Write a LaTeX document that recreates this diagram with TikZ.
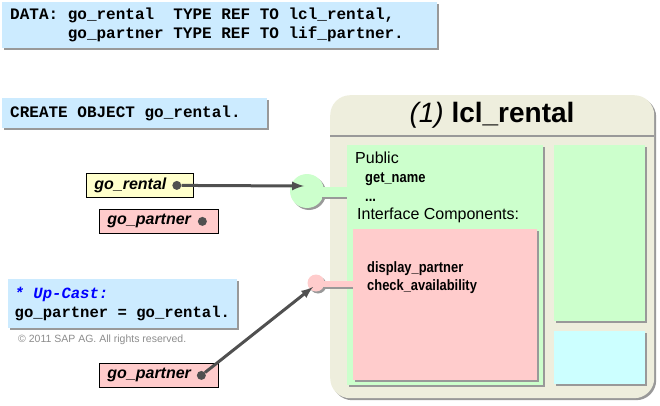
\documentclass[tikz,border=0pt]{standalone}
\usepackage{fontspec}
\setmainfont{Liberation Sans}
\newfontfamily\codefont{Liberation Mono}
\newfontfamily\narrowfont[FakeStretch=0.86]{Liberation Sans}
\usepackage{tikz}
\usetikzlibrary{arrows,positioning,shadows}

\newcommand\codesp{\kern.6em\relax}

\definecolor{codeblue}{HTML}{CCEBFF}
\definecolor{objbeige}{HTML}{EEEEDD}
\definecolor{pubgreen}{HTML}{CCFFCC}
\definecolor{ifpink}{HTML}{FFCCCC}
\definecolor{privcyan}{HTML}{CCFFFF}
\definecolor{refyellow}{HTML}{FFFFCC}
\definecolor{shadowgray}{HTML}{999999}
\definecolor{ptrgray}{HTML}{505050}
\definecolor{castblue}{HTML}{0000FF}
\definecolor{copygray}{HTML}{8C8C8C}

\tikzset{
  shd/.style={general shadow={fill=shadowgray,shadow xshift=2pt,shadow yshift=-2pt}},
  codebox/.style={shd,fill=codeblue,anchor=north west,inner xsep=8pt,inner ysep=0pt,
    font=\codefont\bfseries\fontsize{16}{19}\selectfont},
  refbox/.style={draw=black,line width=0.8pt,anchor=north west,minimum height=24pt,inner xsep=8pt,
    font=\bfseries\itshape\fontsize{16}{19}\selectfont},
  ptrdot/.style={circle,fill=ptrgray,minimum size=9pt,inner sep=0pt},
  ptrline/.style={-latex,line width=3pt,draw=ptrgray},
  panel/.style={shd,anchor=north west,inner sep=0pt},
  plain/.style={anchor=base west,inner sep=0pt,font=\fontsize{16}{19}\selectfont},
  member/.style={anchor=base west,inner sep=0pt,font=\narrowfont\bfseries\fontsize{15}{18}\selectfont}
}

\begin{document}
\begin{tikzpicture}[x=1pt,y=-1pt]
\useasboundingbox (0,0) rectangle (660,406);

\node[codebox,text width=419pt,minimum height=46pt] (data) at (2,2)
  {DATA:\codesp go\_rental\codesp\codesp TYPE\codesp REF\codesp TO\codesp lcl\_rental,\\
  \phantom{DATA:}\codesp go\_partner\codesp TYPE\codesp REF\codesp TO\codesp lif\_partner.};
\node[codebox,text width=249pt,minimum height=30pt] (create) at (2,98) {CREATE\codesp OBJECT\codesp go\_rental.};
\node[codebox,text width=216pt,inner xsep=6.5pt,minimum height=49pt,
  font=\codefont\bfseries\fontsize{15.6}{19}\selectfont] (upcast) at (8,279)
  {\textcolor{castblue}{\itshape *\codesp Up-Cast:}\\ go\_partner\codesp=\codesp go\_rental.};

\node[refbox,fill=refyellow] (rental) at (86,173) {go\_rental\kern19pt};
\node[ptrdot] (rdot) at ([xshift=-17pt]rental.east) {};
\node[refbox,fill=ifpink] (partner) at (99,209) {go\_partner\kern19pt};
\node[ptrdot] (pdot) at ([xshift=-16pt]partner.east) {};
\node[refbox,fill=ifpink] (partnercast) at (99,363) {go\_partner\kern19pt};
\node[ptrdot] (cdot) at ([xshift=-17pt]partnercast.east) {};

\node[anchor=base west,inner sep=0pt,text=copygray,font=\fontsize{10.5}{12}\selectfont] (copyright) at (18,342)
  {\textcopyright{} 2011 SAP AG. All rights reserved.};

\node[panel,fill=objbeige,rounded corners=20pt,minimum width=324pt,minimum height=303pt] (obj) at (330,95) {};
\draw[shadowgray,line width=2pt] (obj.north west) ++(0,41) -- ++(324,0);
\node[anchor=base,font=\fontsize{28}{32}\selectfont] (objtitle) at (492,123) {\textit{(1)} \textbf{lcl\_rental}};

\node[circle,shd,fill=pubgreen,minimum size=34pt,inner sep=0pt] (ifpub) at (307,191) {};
\node[panel,fill=pubgreen,minimum width=27pt,minimum height=10pt] (pubstem) at (320,187) {};
\node[panel,fill=pubgreen,minimum width=196pt,minimum height=240pt] (public) at (347,145) {};

\node[circle,shd,fill=ifpink,minimum size=17pt,inner sep=0pt] (ifpart) at (316,283) {};
\node[panel,fill=ifpink,minimum width=32pt,minimum height=6pt] (partstem) at (321,281) {};
\node[panel,fill=ifpink,minimum width=184pt,minimum height=151pt] (ifcomp) at (353,229) {};

\node[panel,fill=pubgreen,minimum width=91pt,minimum height=176pt] (protsec) at (554,145) {};
\node[panel,fill=privcyan,minimum width=91pt,minimum height=53pt,below=9pt of protsec] (privsec) {};

\node[plain] (pubtxt) at (355,164) {Public};
\node[member] (getname) at (365,182) {get\_name};
\node[member] (moredots) at (365,201) {...};
\node[plain] (iftxt) at (357,219) {Interface Components:};
\node[member] (dispname) at (367,272) {display\_partner};
\node[member] (checkname) at (367,290) {check\_availability};

\coordinate (pubin) at (304,186);
\coordinate (partin) at (313,287);
\draw[ptrline] (rdot) -- (pubin);
\draw[ptrline] (cdot) -- (partin);

\end{tikzpicture}
\end{document}
